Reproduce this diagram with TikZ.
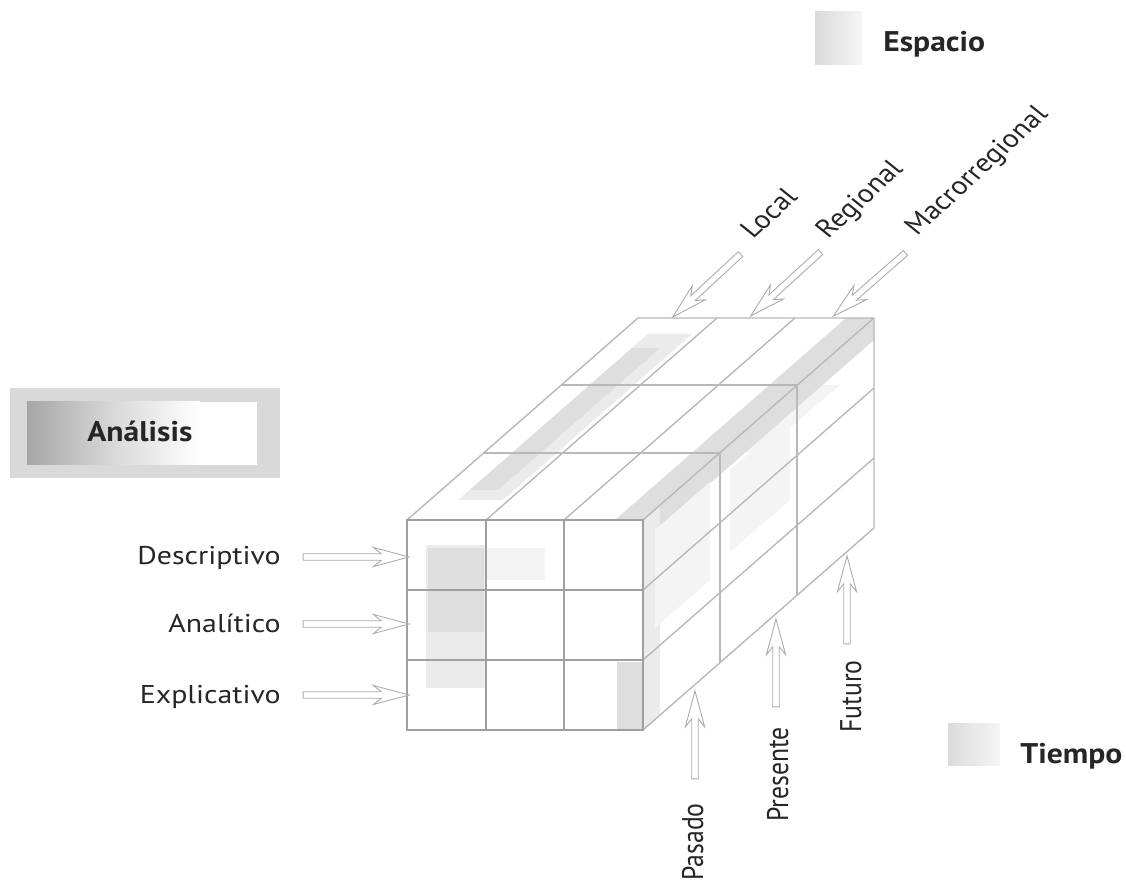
\documentclass[tikz,border=0pt]{standalone}
\usepackage{fontspec}
\setmainfont{PT Sans}
\usetikzlibrary{shapes.arrows,calc}
\newcommand\hollowarrow[3]{%
  \path let \p1=($(#3)-(#2)$), \n1={veclen(\x1,\y1)} in
    (#2) -- (#3) node[harrow, sloped, allow upside down, midway, minimum height=\n1] (#1) {};}
\begin{document}
\begin{tikzpicture}[x=0.02cm,y=-0.02cm,
  lbl/.style={font=\fontsize{17}{19}\selectfont, inner sep=0pt, text=black!85, yscale=0.86},
  ttl/.style={font=\fontsize{18}{20}\selectfont\bfseries, inner sep=0pt, text=black!85, yscale=0.9},
  harrow/.style={single arrow, draw=gray!65, fill=white, line width=0.5pt,
    inner xsep=0pt, inner ysep=1.6pt, minimum width=0pt,
    single arrow head extend=3.6pt, single arrow head indent=4.5pt,
    single arrow tip angle=30},
  backline/.style={draw=gray!55, line width=0.8pt},
  frontline/.style={draw=gray!75, line width=1.3pt},
  shadeA/.style={fill=gray!26},
  shadeB/.style={fill=gray!16},
  shadeC/.style={fill=gray!9},
]
\fill[white] (0,0) rectangle (1126,881);
\useasboundingbox (0,0) rectangle (1126,881);

% ---- title boxes
\fill[gray!30] (10,388) rectangle (280,478);
\shade[left color=gray!70, right color=white, middle color=gray!30] (27,402) rectangle (200,465);
\fill[white] (200,402) rectangle (257,465);
\node[ttl, anchor=base west] (ana) at (87,442) {Análisis};

\shade[left color=gray!28, right color=gray!8] (815,12) rectangle (862,65);
\node[ttl, anchor=base west] (esp) at (883,52) {Espacio};

\shade[left color=gray!28, right color=gray!8] (948,723) rectangle (1000,765);
\node[ttl, anchor=base west] (tie) at (1020,763) {Tiempo};

% ---- cube corners
\coordinate (A) at (407,520);
\coordinate (B) at (643,520);
\coordinate (C) at (643,730);
\coordinate (D) at (407,730);
\coordinate (Bb) at (874,318);
\coordinate (Ab) at (638,318);
\coordinate (Cb) at (874,528);

% ---- shading (halftone look)
% top face
\path[shadeB] (458,500) -- (503,500) -- (692,334) -- (648,334) -- cycle;
\path[shadeA] (470,490) -- (498,490) -- (660,348) -- (632,348) -- cycle;
\path[shadeA] (615,520) -- (643,520) -- (874,318) -- (846,318) -- cycle;
\path[shadeC] (720,453) -- (760,453) -- (840,385) -- (797,385) -- cycle;
% side face
\path[shadeA] (643,520) -- (874,318) -- (874,340) -- (643,542) -- cycle;
\path[shadeB] (643,520) -- (660,505) -- (660,715) -- (643,730) -- cycle;
\path[shadeC] (655,530) -- (710,482) -- (710,580) -- (655,628) -- cycle;
\path[shadeC] (730,470) -- (790,418) -- (790,500) -- (730,552) -- cycle;
% front face
\path[shadeB] (426,545) rectangle (486,688);
\path[shadeA] (428,548) rectangle (484,632);
\path[shadeC] (486,548) rectangle (545,580);
\path[shadeA] (617,662) rectangle (643,730);

% ---- back / top / side lines
\draw[backline] (A) -- (Ab) -- (Bb) -- (Cb) -- (C);
\draw[backline] (B) -- (Bb);
\draw[backline] (486,520) -- (717,318);
\draw[backline] (564,520) -- (795,318);
\draw[backline] (484,453) -- (720,453) -- (720,663);
\draw[backline] (561,385) -- (797,385) -- (797,595);
\draw[backline] (643,590) -- (874,388);
\draw[backline] (643,660) -- (874,458);

% ---- front face
\draw[frontline] (A) rectangle (C);
\draw[frontline] (486,520) -- (486,730);
\draw[frontline] (564,520) -- (564,730);
\draw[frontline] (407,590) -- (643,590);
\draw[frontline] (407,660) -- (643,660);

% ---- analysis labels and arrows
\node[lbl, anchor=base east] (desc) at (281,565) {Descriptivo};
\node[lbl, anchor=base east] (anal) at (281,632) {Analítico};
\node[lbl, anchor=base east] (expl) at (281,703) {Explicativo};
\coordinate (d0) at (297,557); \coordinate (d1) at (403,557);
\coordinate (a0) at (297,624); \coordinate (a1) at (403,624);
\coordinate (e0) at (297,695); \coordinate (e1) at (403,695);
\hollowarrow{ad}{d0}{d1}
\hollowarrow{aa}{a0}{a1}
\hollowarrow{ae}{e0}{e1}

% ---- space labels and arrows
\node[lbl, rotate=47, anchor=base west] (loc) at (753,240) {Local};
\node[lbl, rotate=47, anchor=base west] (reg) at (828,240) {Regional};
\node[lbl, rotate=47, anchor=base west] (mac) at (917,237) {Macrorregional};
\coordinate (l0) at (745,250); \coordinate (l1) at (677,313);
\coordinate (r0) at (825,248); \coordinate (r1) at (755,312);
\coordinate (m0) at (910,249); \coordinate (m1) at (838,312);
\hollowarrow{al}{l0}{l1}
\hollowarrow{ar}{r0}{r1}
\hollowarrow{am}{m0}{m1}

% ---- time labels and arrows
\node[lbl, rotate=90, anchor=base east] (pas) at (703,803) {Pasado};
\node[lbl, rotate=90, anchor=base east] (pre) at (788,727) {Presente};
\node[lbl, rotate=90, anchor=base east] (fut) at (861,660) {Futuro};
\coordinate (p0) at (695,785); \coordinate (p1) at (695,697);
\coordinate (q0) at (776,713); \coordinate (q1) at (776,625);
\coordinate (f0) at (847,650); \coordinate (f1) at (847,562);
\hollowarrow{ap}{p0}{p1}
\hollowarrow{aq}{q0}{q1}
\hollowarrow{af}{f0}{f1}
\end{tikzpicture}
\end{document}
